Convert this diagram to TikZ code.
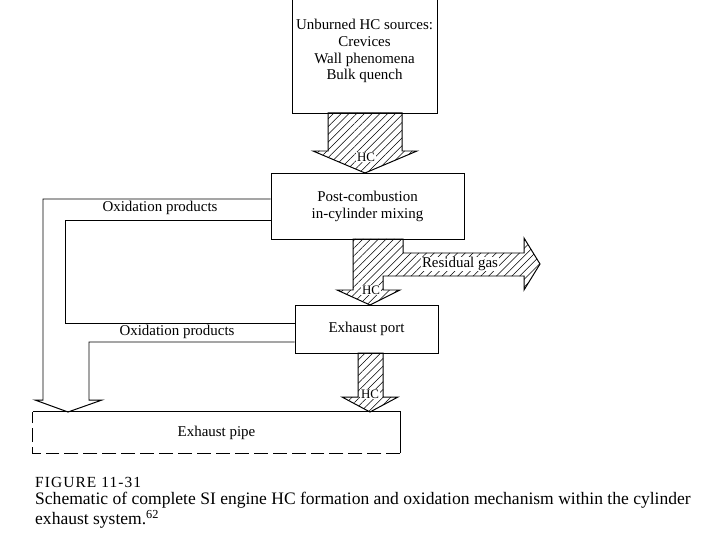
\documentclass[tikz,border=0pt]{standalone}
\usepackage{fontspec}
\setmainfont{Liberation Serif}
\usetikzlibrary{patterns.meta,calc}

\tikzset{
  box/.style={draw, line width=1pt, inner sep=0pt, align=center, font=\fontsize{15}{17}\selectfont},
  hatch/.style={draw, line width=1pt, pattern={Lines[angle=45,distance=5.5pt,line width=0.6pt]}},
  flow/.style={draw, line width=1pt},
  lbl/.style={font=\fontsize{15}{17}\selectfont},
  hclbl/.style={fill=white, inner sep=0.6pt, font=\fontsize{13}{15}\selectfont},
  captxt/.style={anchor=west, inner sep=0pt, font=\fontsize{17.6}{19}\selectfont},
}

\begin{document}
\begin{tikzpicture}[x=1bp, y=-1bp]
\useasboundingbox (0,0) rectangle (720,540);
\clip (0,0) rectangle (720,540);

\node[box, minimum width=145bp, minimum height=124bp] (src) at (364.5,51) {Unburned HC sources:\\Crevices\\Wall phenomena\\Bulk quench};
\node[box, minimum width=193bp, minimum height=66bp] (mix) at (367.5,206) {Post-combustion\\in-cylinder mixing};
\node[box, minimum width=143bp, minimum height=48bp] (port) at (366.5,329) {Exhaust port};
\node[lbl, minimum width=367bp, minimum height=41bp, inner sep=0pt] (pipe) at (216.5,432.5) {Exhaust pipe};
\draw[flow] (pipe.north west) -- (pipe.north east) -- (pipe.south east);
\draw[flow, dash pattern=on 14pt off 5pt] (pipe.south east) -- (pipe.south west) -- (pipe.north west);

% HC from the sources into the cylinder
\draw[hatch] (328,113) -- (402,113) -- (402,151) -- (417,151) -- (365,173) -- (313,151) -- (328,151) -- cycle;
\node[hclbl] (hc1) at (366,157) {HC};

% HC to the port, residual gas to the right
\draw[hatch] (353,239) -- (403,239) -- (403,253) -- (524,253) -- (524,238) -- (540,264) -- (524,290) -- (524,276)
  -- (383,276) -- (383,290) -- (400,290) -- (370,305) -- (337,290) -- (353,290) -- cycle;
\node[hclbl] (hc2) at (371,290) {HC};
\node[hclbl, font=\fontsize{15}{17}\selectfont] (res) at (460,264) {Residual gas};

% HC from the port into the pipe
\draw[hatch] (358,353) -- (383,353) -- (383,397) -- (398,397) -- (370,412) -- (342,397) -- (358,397) -- cycle;
\node[hclbl] (hc3) at (370,394) {HC};

% oxidation products
\coordinate (o1) at (43,199);
\coordinate (o2) at (65,220);
\coordinate (o3) at (89,342);
\coordinate (o4) at (65,323);
\draw[flow] (mix.west |- o1) -- (o1) -- (43,400) -- (35,400) -- (68,412) -- (102,400) -- (89,400) -- (o3) -- (port.west |- o3);
\draw[flow] (mix.west |- o2) -- (o2) -- (o4) -- (port.west |- o4);
\node[lbl] (ox1) at (160,208) {Oxidation products};
\node[lbl] (ox2) at (177,332) {Oxidation products};

\node[captxt, font=\fontsize{15.5}{17}\selectfont\addfontfeatures{LetterSpace=7}] (fig) at (35,482) {FIGURE 11-31};
\node[captxt] (cap1) at (35,500) {Schematic of complete SI engine HC formation and oxidation mechanism within the cylinder};
\node[captxt] (cap2) at (35,519) {exhaust system.\textsuperscript{62}};
\end{tikzpicture}
\end{document}
